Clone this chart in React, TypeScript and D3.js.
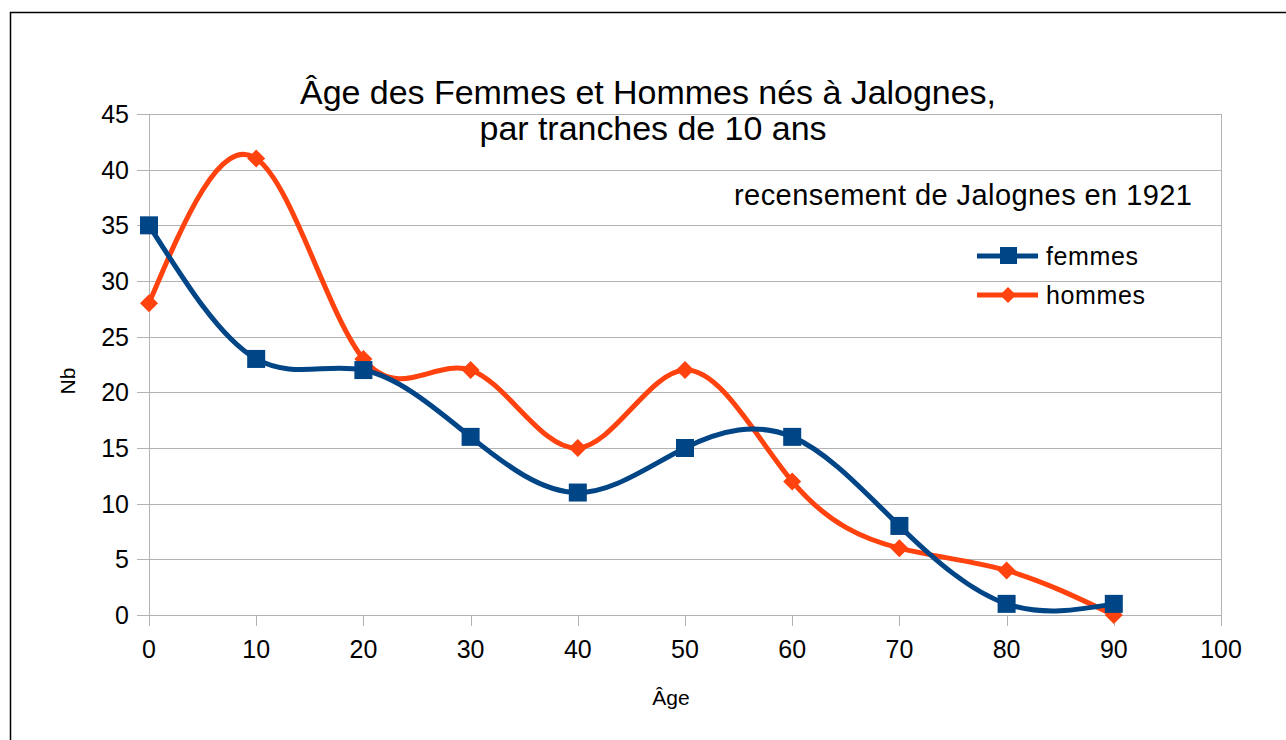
import React, { useEffect, useRef } from "react";
import * as d3 from "d3";

const ages = [0, 10, 20, 30, 40, 50, 60, 70, 80, 90];
const femmes = [35, 23, 22, 16, 11, 15, 16, 8, 1, 1];
const hommes = [28, 41, 23, 22, 15, 22, 12, 6, 4, 0];
const yTicks = [0, 5, 10, 15, 20, 25, 30, 35, 40, 45];
const xTicks = [0, 10, 20, 30, 40, 50, 60, 70, 80, 90, 100];

const WIDTH = 1286;
const HEIGHT = 740;

const App: React.FC = () => {
    const svgRef = useRef<SVGSVGElement>(null);

    useEffect(() => {
        if (!svgRef.current) return;
        const marginTop = 114;
        const marginLeft = 149;
        const plotRight = 1221;
        const plotBottom = 615;
        const font = "'Liberation Sans', Arial, sans-serif";

        const x = d3.scaleLinear().domain([0, 100]).range([marginLeft, plotRight]);
        const y = d3.scaleLinear().domain([0, 45]).range([plotBottom, marginTop]);

        const svg = d3.select(svgRef.current)
            .attr("viewBox", [0, 0, WIDTH, HEIGHT]);
        svg.selectAll("*").remove();

        svg.append("rect")
            .attr("width", WIDTH).attr("height", HEIGHT).attr("fill", "white");

        // outer frame
        svg.append("rect")
            .attr("x", 10.5).attr("y", 12.5)
            .attr("width", WIDTH).attr("height", HEIGHT)
            .attr("fill", "none").attr("stroke", "#000").attr("stroke-width", 1.5);

        // horizontal grid
        svg.append("g")
            .selectAll("line")
            .data(yTicks)
            .join("line")
            .attr("x1", marginLeft - 12).attr("x2", plotRight)
            .attr("y1", (d) => Math.round(y(d)) + 0.5)
            .attr("y2", (d) => Math.round(y(d)) + 0.5)
            .attr("stroke", "#b3b3b3");

        // left axis line + right border
        svg.append("line")
            .attr("x1", marginLeft + 0.5).attr("x2", marginLeft + 0.5)
            .attr("y1", marginTop).attr("y2", plotBottom + 11)
            .attr("stroke", "#b3b3b3");
        svg.append("line")
            .attr("x1", plotRight + 0.5).attr("x2", plotRight + 0.5)
            .attr("y1", marginTop).attr("y2", plotBottom)
            .attr("stroke", "#b3b3b3");

        // x ticks
        svg.append("g")
            .selectAll("line")
            .data(xTicks)
            .join("line")
            .attr("x1", (d) => Math.round(x(d)) + 0.5)
            .attr("x2", (d) => Math.round(x(d)) + 0.5)
            .attr("y1", plotBottom).attr("y2", plotBottom + 11)
            .attr("stroke", "#b3b3b3");

        svg.append("g")
            .attr("font-family", font).attr("font-size", 25)
            .selectAll("text")
            .data(xTicks)
            .join("text")
            .attr("x", (d) => x(d))
            .attr("y", plotBottom + 43)
            .attr("text-anchor", "middle")
            .text((d) => d);

        svg.append("g")
            .attr("font-family", font).attr("font-size", 25)
            .selectAll("text")
            .data(yTicks)
            .join("text")
            .attr("x", 129)
            .attr("y", (d) => y(d) + 9)
            .attr("text-anchor", "end")
            .text((d) => d);

        // axis titles
        svg.append("text")
            .attr("font-family", font).attr("font-size", 21)
            .attr("text-anchor", "middle")
            .attr("transform", "translate(75,381) rotate(-90)")
            .text("Nb");
        svg.append("text")
            .attr("font-family", font).attr("font-size", 21)
            .attr("text-anchor", "middle")
            .attr("x", 671).attr("y", 705)
            .text("Âge");

        // title
        svg.append("text")
            .attr("font-family", font).attr("font-size", 34)
            .attr("text-anchor", "middle")
            .attr("x", 648).attr("y", 104)
            .attr("textLength", 696).attr("lengthAdjust", "spacing")
            .text("Âge des Femmes et Hommes nés à Jalognes,");
        svg.append("text")
            .attr("font-family", font).attr("font-size", 34)
            .attr("text-anchor", "middle")
            .attr("x", 653).attr("y", 140)
            .attr("textLength", 347).attr("lengthAdjust", "spacing")
            .text("par tranches de 10 ans");

        svg.append("text")
            .attr("font-family", font).attr("font-size", 29)
            .attr("x", 734).attr("y", 205)
            .attr("textLength", 458).attr("lengthAdjust", "spacing")
            .text("recensement de Jalognes en 1921");

        const line = d3.line<number>()
            .x((_, i) => x(ages[i]))
            .y((d) => y(d))
            .curve(d3.curveNatural);

        const diamond = (cx: number, cy: number, r: number) =>
            `M${cx},${cy - r}L${cx + r},${cy}L${cx},${cy + r}L${cx - r},${cy}Z`;

        // hommes
        svg.append("path")
            .attr("d", line(hommes))
            .attr("fill", "none").attr("stroke", "#ff420e")
            .attr("stroke-width", 5).attr("stroke-linejoin", "round");
        // femmes
        svg.append("path")
            .attr("d", line(femmes))
            .attr("fill", "none").attr("stroke", "#004586")
            .attr("stroke-width", 5).attr("stroke-linejoin", "round");

        svg.append("g")
            .selectAll("path")
            .data(hommes)
            .join("path")
            .attr("d", (d, i) => diamond(x(ages[i]), y(d), 9))
            .attr("fill", "#ff420e");

        svg.append("g")
            .selectAll("rect")
            .data(femmes)
            .join("rect")
            .attr("x", (d, i) => x(ages[i]) - 9)
            .attr("y", (d) => y(d) - 9)
            .attr("width", 18).attr("height", 18)
            .attr("fill", "#004586");

        // legend
        const legend = [
            { name: "femmes", color: "#004586", cy: 256, shape: "square", w: 92 },
            { name: "hommes", color: "#ff420e", cy: 295, shape: "diamond", w: 99 },
        ];
        const lg = svg.append("g");
        legend.forEach((l) => {
            lg.append("line")
                .attr("x1", 977).attr("x2", 1038)
                .attr("y1", l.cy).attr("y2", l.cy)
                .attr("stroke", l.color).attr("stroke-width", 5);
            if (l.shape === "square") {
                lg.append("rect")
                    .attr("x", 1000).attr("y", l.cy - 9)
                    .attr("width", 17).attr("height", 17)
                    .attr("fill", l.color);
            } else {
                lg.append("path")
                    .attr("d", diamond(1008, l.cy, 8))
                    .attr("fill", l.color);
            }
            lg.append("text")
                .attr("font-family", font).attr("font-size", 25)
                .attr("x", 1046).attr("y", l.cy + 9)
                .attr("textLength", l.w).attr("lengthAdjust", "spacing")
                .text(l.name);
        });
    }, []);

    return (
        <svg
            ref={svgRef}
            width={WIDTH}
            height={HEIGHT}
            style={{ position: "absolute", left: 0, top: 0 }}
        />
    );
};

export default App;
